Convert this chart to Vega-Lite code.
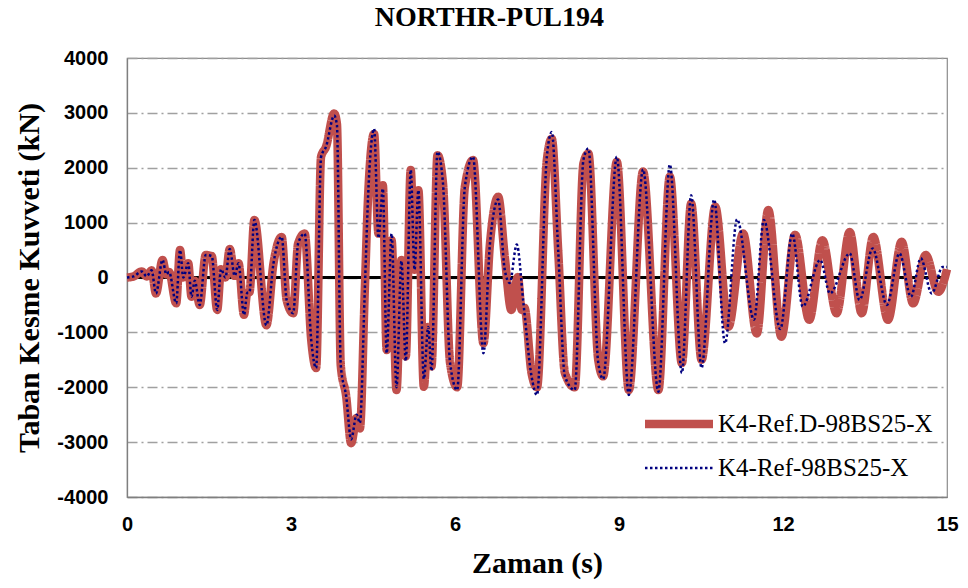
{
  "$schema": "https://vega.github.io/schema/vega-lite/v6.json",
  "width": 820,
  "height": 439,
  "autosize": {"type": "none"},
  "padding": {"left": 127, "top": 58, "right": 21, "bottom": 91},
  "background": "white",
  "title": {"text": "NORTHR-PUL194", "font": "Liberation Serif", "fontSize": 28, "fontWeight": "bold", "color": "black", "anchor": "middle", "frame": "bounds", "offset": 16},
  "config": {
    "view": {"stroke": "#8C8C8C", "strokeWidth": 1.2},
    "axis": {"domainColor": "#7F7F7F", "domainWidth": 1.3, "ticks": false, "labelFont": "Liberation Sans", "labelFontWeight": "bold", "labelFontSize": 20, "labelColor": "black", "labelFlush": false, "titleFont": "Liberation Serif", "titleFontWeight": "bold", "titleFontSize": 30, "titleColor": "black"},
    "legend": {"orient": "none", "legendX": 536, "legendY": 350, "padding": 0, "title": null, "labelFont": "Liberation Serif", "labelFontSize": 25, "labelColor": "black", "labelLimit": 400, "symbolType": "M-3,0H3", "symbolSize": 514, "labelOffset": 23, "rowPadding": 14}
  },
  "data": {"values": [
    {"s":"A","t":0,"v":0},{"s":"A","t":0.12,"v":20},{"s":"A","t":0.27,"v":110},{"s":"A","t":0.36,"v":20},{"s":"A","t":0.45,"v":130},{"s":"A","t":0.53,"v":-290},{"s":"A","t":0.65,"v":320},{"s":"A","t":0.72,"v":60},{"s":"A","t":0.77,"v":100},{"s":"A","t":0.9,"v":-470},{"s":"A","t":0.97,"v":500},{"s":"A","t":1.03,"v":0},{"s":"A","t":1.12,"v":260},{"s":"A","t":1.18,"v":-350},{"s":"A","t":1.24,"v":-60},{"s":"A","t":1.33,"v":-500},{"s":"A","t":1.44,"v":410},{"s":"A","t":1.55,"v":390},{"s":"A","t":1.65,"v":-590},{"s":"A","t":1.72,"v":150},{"s":"A","t":1.8,"v":0},{"s":"A","t":1.88,"v":520},{"s":"A","t":1.97,"v":30},{"s":"A","t":2.04,"v":260},{"s":"A","t":2.14,"v":-680},{"s":"A","t":2.2,"v":-280},{"s":"A","t":2.24,"v":-270},{"s":"A","t":2.33,"v":1050},{"s":"A","t":2.55,"v":-870},{"s":"A","t":2.68,"v":260},{"s":"A","t":2.83,"v":740},{"s":"A","t":2.92,"v":-410},{"s":"A","t":3.04,"v":-650},{"s":"A","t":3.13,"v":620},{"s":"A","t":3.25,"v":800},{"s":"A","t":3.37,"v":-1140},{"s":"A","t":3.46,"v":-1650},{"s":"A","t":3.55,"v":2200},{"s":"A","t":3.64,"v":2380},{"s":"A","t":3.79,"v":2990},{"s":"A","t":3.84,"v":2800},{"s":"A","t":3.91,"v":-1600},{"s":"A","t":4.01,"v":-2170},{"s":"A","t":4.1,"v":-3020},{"s":"A","t":4.2,"v":-2560},{"s":"A","t":4.26,"v":-2750},{"s":"A","t":4.35,"v":-230},{"s":"A","t":4.41,"v":1470},{"s":"A","t":4.52,"v":2620},{"s":"A","t":4.6,"v":800},{"s":"A","t":4.68,"v":1680},{"s":"A","t":4.75,"v":-1320},{"s":"A","t":4.84,"v":680},{"s":"A","t":4.93,"v":-2050},{"s":"A","t":5.02,"v":320},{"s":"A","t":5.1,"v":-1440},{"s":"A","t":5.19,"v":1960},{"s":"A","t":5.26,"v":140},{"s":"A","t":5.33,"v":1590},{"s":"A","t":5.43,"v":-1990},{"s":"A","t":5.51,"v":-900},{"s":"A","t":5.57,"v":-1620},{"s":"A","t":5.68,"v":2230},{"s":"A","t":5.78,"v":1720},{"s":"A","t":5.91,"v":-1560},{"s":"A","t":6.04,"v":-2000},{"s":"A","t":6.18,"v":1650},{"s":"A","t":6.33,"v":2140},{"s":"A","t":6.52,"v":-1200},{"s":"A","t":6.64,"v":620},{"s":"A","t":6.79,"v":1470},{"s":"A","t":6.91,"v":380},{"s":"A","t":7.03,"v":-590},{"s":"A","t":7.15,"v":10},{"s":"A","t":7.22,"v":-590},{"s":"A","t":7.27,"v":-550},{"s":"A","t":7.4,"v":-1740},{"s":"A","t":7.5,"v":-2000},{"s":"A","t":7.68,"v":2140},{"s":"A","t":7.77,"v":2530},{"s":"A","t":7.89,"v":440},{"s":"A","t":8.01,"v":-1740},{"s":"A","t":8.19,"v":-2000},{"s":"A","t":8.35,"v":2080},{"s":"A","t":8.44,"v":2260},{"s":"A","t":8.62,"v":-1500},{"s":"A","t":8.71,"v":-1800},{"s":"A","t":8.96,"v":2110},{"s":"A","t":9.18,"v":-2050},{"s":"A","t":9.44,"v":1930},{"s":"A","t":9.72,"v":-2050},{"s":"A","t":9.93,"v":1840},{"s":"A","t":10.15,"v":-1560},{"s":"A","t":10.32,"v":1350},{"s":"A","t":10.51,"v":-1500},{"s":"A","t":10.76,"v":1290},{"s":"A","t":11.0,"v":-900},{"s":"A","t":11.27,"v":800},{"s":"A","t":11.52,"v":-1020},{"s":"A","t":11.73,"v":1230},{"s":"A","t":11.97,"v":-1080},{"s":"A","t":12.22,"v":780},{"s":"A","t":12.48,"v":-770},{"s":"A","t":12.72,"v":680},{"s":"A","t":12.98,"v":-650},{"s":"A","t":13.22,"v":830},{"s":"A","t":13.44,"v":-650},{"s":"A","t":13.65,"v":740},{"s":"A","t":13.92,"v":-770},{"s":"A","t":14.17,"v":650},{"s":"A","t":14.38,"v":-470},{"s":"A","t":14.61,"v":410},{"s":"A","t":14.84,"v":-260},{"s":"A","t":15.0,"v":150},
    {"s":"B","t":0,"v":0},{"s":"B","t":0.12,"v":20},{"s":"B","t":0.27,"v":110},{"s":"B","t":0.36,"v":20},{"s":"B","t":0.45,"v":130},{"s":"B","t":0.53,"v":-290},{"s":"B","t":0.65,"v":320},{"s":"B","t":0.72,"v":60},{"s":"B","t":0.77,"v":100},{"s":"B","t":0.9,"v":-470},{"s":"B","t":0.97,"v":500},{"s":"B","t":1.03,"v":0},{"s":"B","t":1.12,"v":260},{"s":"B","t":1.18,"v":-350},{"s":"B","t":1.24,"v":-60},{"s":"B","t":1.33,"v":-500},{"s":"B","t":1.44,"v":410},{"s":"B","t":1.55,"v":390},{"s":"B","t":1.65,"v":-590},{"s":"B","t":1.72,"v":150},{"s":"B","t":1.8,"v":0},{"s":"B","t":1.88,"v":520},{"s":"B","t":1.97,"v":30},{"s":"B","t":2.04,"v":260},{"s":"B","t":2.14,"v":-680},{"s":"B","t":2.2,"v":-280},{"s":"B","t":2.24,"v":-270},{"s":"B","t":2.33,"v":1050},{"s":"B","t":2.55,"v":-870},{"s":"B","t":2.68,"v":260},{"s":"B","t":2.83,"v":740},{"s":"B","t":2.92,"v":-410},{"s":"B","t":3.04,"v":-650},{"s":"B","t":3.13,"v":620},{"s":"B","t":3.25,"v":800},{"s":"B","t":3.37,"v":-1140},{"s":"B","t":3.46,"v":-1650},{"s":"B","t":3.55,"v":2200},{"s":"B","t":3.64,"v":2380},{"s":"B","t":3.79,"v":2950},{"s":"B","t":3.84,"v":2780},{"s":"B","t":3.91,"v":-1600},{"s":"B","t":4.01,"v":-2170},{"s":"B","t":4.1,"v":-2950},{"s":"B","t":4.2,"v":-2500},{"s":"B","t":4.26,"v":-2650},{"s":"B","t":4.35,"v":-230},{"s":"B","t":4.41,"v":1470},{"s":"B","t":4.52,"v":2710},{"s":"B","t":4.6,"v":720},{"s":"B","t":4.68,"v":1620},{"s":"B","t":4.75,"v":-1380},{"s":"B","t":4.84,"v":800},{"s":"B","t":4.93,"v":-2000},{"s":"B","t":5.02,"v":300},{"s":"B","t":5.1,"v":-1520},{"s":"B","t":5.19,"v":1960},{"s":"B","t":5.26,"v":140},{"s":"B","t":5.33,"v":1590},{"s":"B","t":5.43,"v":-1850},{"s":"B","t":5.51,"v":-900},{"s":"B","t":5.57,"v":-1700},{"s":"B","t":5.68,"v":2290},{"s":"B","t":5.78,"v":1720},{"s":"B","t":5.91,"v":-1560},{"s":"B","t":6.04,"v":-2050},{"s":"B","t":6.18,"v":1650},{"s":"B","t":6.33,"v":2200},{"s":"B","t":6.52,"v":-1380},{"s":"B","t":6.64,"v":620},{"s":"B","t":6.79,"v":1420},{"s":"B","t":6.91,"v":140},{"s":"B","t":7.0,"v":-100},{"s":"B","t":7.13,"v":600},{"s":"B","t":7.25,"v":-450},{"s":"B","t":7.4,"v":-1800},{"s":"B","t":7.5,"v":-2140},{"s":"B","t":7.68,"v":2200},{"s":"B","t":7.77,"v":2650},{"s":"B","t":7.89,"v":440},{"s":"B","t":8.01,"v":-1800},{"s":"B","t":8.19,"v":-2050},{"s":"B","t":8.35,"v":2150},{"s":"B","t":8.44,"v":2350},{"s":"B","t":8.62,"v":-1550},{"s":"B","t":8.71,"v":-1850},{"s":"B","t":8.96,"v":2200},{"s":"B","t":9.18,"v":-2140},{"s":"B","t":9.44,"v":1970},{"s":"B","t":9.72,"v":-2080},{"s":"B","t":9.93,"v":2060},{"s":"B","t":10.15,"v":-1740},{"s":"B","t":10.32,"v":1500},{"s":"B","t":10.51,"v":-1650},{"s":"B","t":10.74,"v":1420},{"s":"B","t":10.94,"v":-1200},{"s":"B","t":11.16,"v":1060},{"s":"B","t":11.47,"v":-770},{"s":"B","t":11.65,"v":1050},{"s":"B","t":11.95,"v":-940},{"s":"B","t":12.17,"v":800},{"s":"B","t":12.36,"v":-530},{"s":"B","t":12.68,"v":320},{"s":"B","t":12.86,"v":-290},{"s":"B","t":13.22,"v":440},{"s":"B","t":13.4,"v":-410},{"s":"B","t":13.64,"v":530},{"s":"B","t":13.9,"v":-500},{"s":"B","t":14.13,"v":440},{"s":"B","t":14.34,"v":-350},{"s":"B","t":14.52,"v":350},{"s":"B","t":14.72,"v":-290},{"s":"B","t":14.92,"v":190},{"s":"B","t":15.0,"v":190}
  ]},
  "transform": [{"calculate": "datum.s == 'A' ? 'K4-Ref.D-98BS25-X' : 'K4-Ref-98BS25-X'", "as": "series"}],
  "encoding": {
    "x": {"field": "t", "type": "quantitative", "scale": {"domain": [0, 15], "nice": false, "zero": false}, "axis": {"values": [0, 3, 6, 9, 12, 15], "grid": false, "title": "Zaman (s)", "labelPadding": 17, "titlePadding": 14}},
    "y": {"field": "v", "type": "quantitative", "scale": {"domain": [-4000, 4000], "nice": false}, "axis": {"values": [-4000, -3000, -2000, -1000, 0, 1000, 2000, 3000, 4000], "labelExpr": "'' + datum.value", "grid": true, "gridColor": "#A0A0A0", "gridWidth": 1.3, "gridDash": [10, 4, 2, 4], "title": "Taban Kesme Kuvveti (kN)", "labelPadding": 19, "titlePadding": 12}}
  },
  "layer": [
    {"mark": {"type": "rule", "color": "black", "strokeWidth": 1.5}, "encoding": {"y": {"datum": 0}, "x": {"datum": 0}, "x2": {"datum": 15}}},
    {"transform": [{"filter": "datum.s == 'A'"}], "mark": {"type": "line", "interpolate": "monotone", "opacity": 1},
     "encoding": {
       "color": {"field": "series", "type": "nominal", "scale": {"domain": ["K4-Ref.D-98BS25-X", "K4-Ref-98BS25-X"], "range": ["#C0504D", "#000080"]}},
       "strokeWidth": {"field": "series", "type": "nominal", "scale": {"domain": ["K4-Ref.D-98BS25-X", "K4-Ref-98BS25-X"], "range": [8.5, 2.5]}},
       "strokeDash": {"field": "series", "type": "nominal", "scale": {"domain": ["K4-Ref.D-98BS25-X", "K4-Ref-98BS25-X"], "range": [[1, 0], [2.5, 2.5]]}}
     }},
    {"transform": [{"filter": "datum.s == 'B'"}], "mark": {"type": "line", "interpolate": "monotone", "opacity": 1},
     "encoding": {
       "color": {"field": "series", "type": "nominal"},
       "strokeWidth": {"field": "series", "type": "nominal"},
       "strokeDash": {"field": "series", "type": "nominal"}
     }}
  ]
}
